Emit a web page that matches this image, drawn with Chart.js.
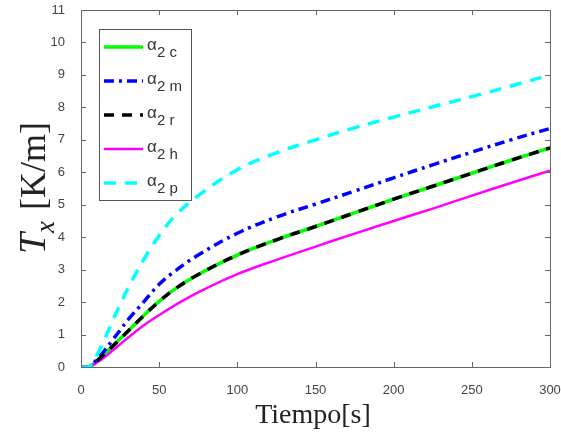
<!DOCTYPE html>
<html>
<head>
<meta charset="utf-8">
<script src="https://cdn.jsdelivr.net/npm/chart.js@4.4.1/dist/chart.umd.min.js"></script>
<style>
  html, body { margin: 0; padding: 0; background: #fff; }
  #wrap { width: 561px; height: 433px; }
</style>
</head>
<body>
<div id="wrap"><canvas id="c" width="561" height="433"></canvas></div>
<script>
// time (s)
const tiempo = [0, 5, 10, 15, 20, 25, 30, 40, 50, 60, 75, 100, 125, 150, 175, 200, 225, 250, 275, 300];
// T_x (K/m) per alpha_2 case
const a2c = [0, 0, 0.18, 0.4, 0.63, 0.87, 1.1, 1.58, 2.02, 2.4, 2.85, 3.45, 3.92, 4.33, 4.75, 5.17, 5.57, 5.97, 6.37, 6.75];
const a2m = [0, 0, 0.22, 0.5, 0.82, 1.13, 1.45, 2.0, 2.55, 2.95, 3.45, 4.12, 4.62, 5.02, 5.42, 5.83, 6.23, 6.62, 7.0, 7.35];
const a2r = [0, 0, 0.18, 0.4, 0.63, 0.87, 1.1, 1.58, 2.02, 2.4, 2.85, 3.45, 3.92, 4.33, 4.75, 5.17, 5.57, 5.97, 6.37, 6.75];
const a2h = [0, 0, 0.13, 0.3, 0.5, 0.7, 0.9, 1.28, 1.6, 1.9, 2.3, 2.86, 3.3, 3.71, 4.11, 4.5, 4.88, 5.28, 5.67, 6.05];
const a2p = [0, 0, 0.35, 0.85, 1.4, 1.92, 2.42, 3.3, 4.05, 4.65, 5.28, 6.08, 6.6, 7.0, 7.37, 7.7, 8.02, 8.33, 8.66, 9.0];

const xTicks = [0, 50, 100, 150, 200, 250, 300];
const yTicks = [0, 1, 2, 3, 4, 5, 6, 7, 8, 9, 10, 11];

const series = [
  { sub: "c", data: a2c, color: "#00ff00", width: 3.5, dash: [], order: 4 },
  { sub: "m", data: a2m, color: "#0000ff", width: 3.5, dash: [10, 5, 3, 5], order: 2 },
  { sub: "r", data: a2r, color: "#000000", width: 3.5, dash: [10, 8], order: 1 },
  { sub: "h", data: a2h, color: "#ff00ff", width: 2.5, dash: [], order: 3 },
  { sub: "p", data: a2p, color: "#00ffff", width: 3.5, dash: [12, 9], order: 0 }
];

const datasets = series.map(s => ({
  label: "\u03b1 2 " + s.sub,
  data: tiempo.map((t, i) => ({ x: t, y: s.data[i] })),
  borderColor: s.color,
  borderWidth: s.width,
  borderDash: s.dash,
  pointRadius: 0,
  tension: 0.4,
  fill: false,
  order: s.order
}));

// MATLAB-like box with inward ticks, custom legend and axis titles
const matlabLook = {
  id: "matlabLook",
  afterDatasetsDraw(chart) {
    const ctx = chart.ctx;
    const a = chart.chartArea;
    const xs = chart.scales.x, ys = chart.scales.y;
    ctx.save();
    ctx.strokeStyle = "#666";
    ctx.lineWidth = 1;
    ctx.strokeRect(a.left + 0.5, a.top + 0.5, a.right - a.left, a.bottom - a.top);
    ctx.beginPath();
    xTicks.forEach(v => {
      const px = Math.round(xs.getPixelForValue(v)) + 0.5;
      ctx.moveTo(px, a.bottom); ctx.lineTo(px, a.bottom - 5);
      ctx.moveTo(px, a.top); ctx.lineTo(px, a.top + 5);
    });
    yTicks.forEach(v => {
      const py = Math.round(ys.getPixelForValue(v)) + 0.5;
      ctx.moveTo(a.left, py); ctx.lineTo(a.left + 5, py);
      ctx.moveTo(a.right, py); ctx.lineTo(a.right - 5, py);
    });
    ctx.stroke();

    // legend
    const lx = 99, ly = 29, lw = 92, lh = 171;
    ctx.fillStyle = "#fff";
    ctx.fillRect(lx, ly, lw, lh);
    ctx.strokeStyle = "#555";
    ctx.strokeRect(lx + 0.5, ly + 0.5, lw, lh);
    series.forEach((s, i) => {
      const y = 47 + i * 34;
      ctx.beginPath();
      ctx.strokeStyle = s.color;
      ctx.lineWidth = s.width;
      ctx.setLineDash(s.dash);
      ctx.moveTo(104, y); ctx.lineTo(143, y);
      ctx.stroke();
      ctx.setLineDash([]);
      ctx.fillStyle = "#333";
      ctx.textBaseline = "alphabetic";
      ctx.textAlign = "left";
      ctx.font = "17px 'Liberation Sans'";
      ctx.fillText("\u03b1", 147, y + 3);
      ctx.font = "15px 'Liberation Sans'";
      ctx.fillText("2 " + s.sub, 157, y + 10);
    });

    // x title
    ctx.fillStyle = "#222";
    ctx.font = "28px 'Liberation Serif'";
    ctx.textAlign = "center";
    ctx.textBaseline = "alphabetic";
    ctx.fillText("Tiempo[s]", 313, 423);

    // y title, rotated
    ctx.translate(45, 188);
    ctx.rotate(-Math.PI / 2);
    ctx.textAlign = "left";
    const fT = "italic 38px 'Liberation Serif'";
    const fx = "italic 27px 'Liberation Serif'";
    const fr = "36px 'Liberation Serif'";
    ctx.font = fT; const wT = ctx.measureText("T").width;
    ctx.font = fx; const wx = ctx.measureText("x").width;
    ctx.font = fr; const wr = ctx.measureText(" [K/m]").width;
    let x0 = -(wT + wx + 2 + wr) / 2;
    ctx.font = fT; ctx.fillText("T", x0, 0); x0 += wT;
    ctx.font = fx; ctx.fillText("x", x0, 9); x0 += wx + 2;
    ctx.font = fr; ctx.fillText(" [K/m]", x0, 0);
    ctx.restore();
  }
};

new Chart(document.getElementById("c"), {
  type: "line",
  data: { datasets },
  options: {
    responsive: false,
    animation: false,
    layout: { padding: { left: 0, right: 0, top: 10, bottom: 0 } },
    plugins: { legend: { display: false }, tooltip: { enabled: false } },
    scales: {
      x: {
        type: "linear",
        min: 0, max: 300,
        afterBuildTicks: s => { s.ticks = xTicks.map(v => ({ value: v })); },
        afterFit: s => { s.height = 66; s.paddingRight = 11; s.paddingLeft = 0; },
        grid: { display: false },
        border: { display: false },
        ticks: { color: "#444", font: { family: "Liberation Sans", size: 13 }, padding: 8, maxRotation: 0 }
      },
      y: {
        min: 0, max: 11,
        afterBuildTicks: s => { s.ticks = yTicks.map(v => ({ value: v })); },
        afterFit: s => { s.width = 81; s.paddingTop = 0; s.paddingBottom = 0; },
        grid: { display: false },
        border: { display: false },
        ticks: { color: "#444", font: { family: "Liberation Sans", size: 13 }, padding: 8 }
      }
    }
  },
  plugins: [matlabLook]
});
</script>
</body>
</html>
